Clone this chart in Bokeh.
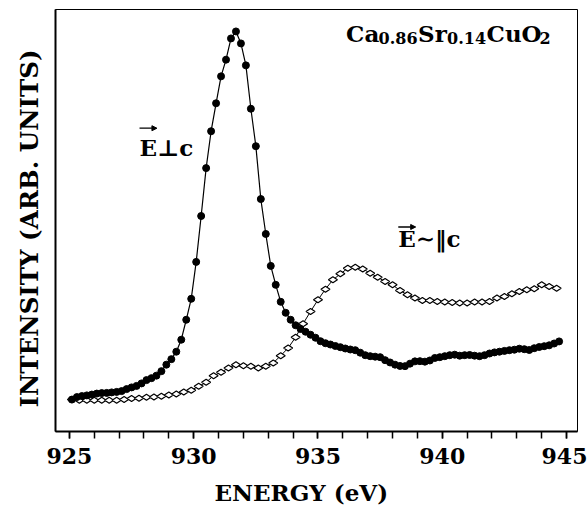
from bokeh.plotting import figure
from bokeh.models import Range1d, FixedTicker, Label, Arrow, NormalHead, ColumnDataSource, Title
from bokeh.embed import file_html
from bokeh.resources import INLINE
import math

# ---- data (energy in eV, intensity in arbitrary units) ----
energy_perp = [
    925.1, 925.3, 925.5, 925.7, 925.9, 926.1, 926.3, 926.5, 926.7, 926.9,
    927.1, 927.3, 927.5, 927.7, 927.9, 928.1, 928.3, 928.5, 928.7, 928.9,
    929.1, 929.3, 929.5, 929.7, 929.9, 930.1, 930.3, 930.5, 930.7, 930.9,
    931.1, 931.3, 931.5, 931.7, 931.9, 932.1, 932.3, 932.5, 932.7, 932.9,
    933.1, 933.3, 933.5, 933.7, 933.9, 934.1, 934.3, 934.5, 934.7, 934.9,
    935.1, 935.3, 935.5, 935.7, 935.9, 936.1, 936.3, 936.5, 936.7, 936.9,
    937.1, 937.3, 937.5, 937.7, 937.9, 938.1, 938.3, 938.5, 938.7, 938.9,
    939.1, 939.3, 939.5, 939.7, 939.9, 940.1, 940.3, 940.5, 940.7, 940.9,
    941.1, 941.3, 941.5, 941.7, 941.9, 942.1, 942.3, 942.5, 942.7, 942.9,
    943.1, 943.3, 943.5, 943.7, 943.9, 944.1, 944.3, 944.5, 944.7,
]
intensity_perp = [
    32, 34.5, 35.5, 36.2, 37, 38, 38.5, 38.7, 39.2, 39.7,
    40.5, 42.5, 44.2, 45.7, 48.2, 51.5, 53.5, 56, 60.5, 67,
    72.5, 80, 92, 112, 133, 170, 216, 264, 301, 329,
    356, 372.7, 394, 401, 389, 367, 323.5, 286, 233, 198,
    166, 147, 130, 119, 112, 106.5, 102.7, 100, 97, 94,
    90.5, 88.5, 87.2, 85.7, 84.5, 83.2, 82.2, 81.5, 79, 76.5,
    75.5, 75, 74.5, 71.5, 69.2, 67, 65.7, 65.5, 68, 70.3,
    70.5, 70, 71.2, 73.7, 74.5, 75.5, 76.5, 77, 76, 76.5,
    76.7, 76, 75.5, 76.5, 78.2, 79.3, 80, 80.8, 81.5, 82,
    83, 82.5, 81.7, 83.5, 84.7, 85.5, 86.4, 88.2, 90.3,
]
energy_para = [
    925.1, 925.4, 925.7, 926.0, 926.3, 926.6, 926.9, 927.2, 927.5, 927.8,
    928.1, 928.4, 928.7, 929.0, 929.3, 929.6, 929.9, 930.2, 930.5, 930.8,
    931.1, 931.4, 931.7, 932.0, 932.3, 932.6, 932.9, 933.2, 933.5, 933.8,
    934.1, 934.4, 934.7, 935.0, 935.3, 935.6, 935.9, 936.2, 936.5, 936.8,
    937.1, 937.4, 937.7, 938.0, 938.3, 938.6, 938.9, 939.2, 939.5, 939.8,
    940.1, 940.4, 940.7, 941.0, 941.3, 941.6, 941.9, 942.2, 942.5, 942.8,
    943.1, 943.4, 943.7, 944.0, 944.3, 944.6,
]
intensity_para = [
    32, 31.3, 31.3, 31.3, 31.3, 31.3, 31.3, 32, 33, 33.3,
    34.3, 34.7, 35.3, 36.7, 37.7, 39.7, 41.3, 45.3, 49.3, 56,
    59.3, 63.7, 67, 66, 65.3, 63.7, 65.3, 68.7, 76, 83.7,
    94.5, 108, 120.3, 132, 142.7, 152, 158, 163.7, 164.7, 163,
    158.7, 154.7, 150.3, 147, 141.3, 137, 133.7, 131.3, 131.3, 130.3,
    129.7, 129.3, 128.7, 128.7, 129.7, 129.7, 130.3, 133.7, 135.3, 138,
    140.3, 142, 143, 147, 145.3, 143.7,
]
major_ticks = [925, 930, 935, 940, 945]
minor_ticks = list(range(925, 946))

FONT = "DejaVu Serif"

p = figure(width=587, height=516, output_backend="svg", toolbar_location=None,
           x_range=Range1d(924.44, 945.44), y_range=Range1d(0, 423),
           min_border_left=55, min_border_right=10, min_border_top=9, min_border_bottom=84)
p.background_fill_color = "white"
p.border_fill_color = "white"
p.outline_line_color = "black"
p.outline_line_width = 1
p.xgrid.visible = False
p.ygrid.visible = False

src_perp = ColumnDataSource(dict(x=energy_perp, y=intensity_perp))
src_para = ColumnDataSource(dict(x=energy_para, y=intensity_para))

p.line("x", "y", source=src_para, line_color="black", line_width=1)
p.scatter("x", "y", source=src_para, marker="diamond", size=9, angle=math.pi / 2,
          fill_color="white", line_color="black", line_width=1.2)
p.line("x", "y", source=src_perp, line_color="black", line_width=1.2)
p.scatter("x", "y", source=src_perp, marker="circle", size=7,
          fill_color="black", line_color="black")

# x axis
xa = p.xaxis[0]
xa.ticker = FixedTicker(ticks=major_ticks, minor_ticks=minor_ticks)
xa.axis_line_width = 2
xa.major_tick_in = 0
xa.major_tick_out = 7
xa.minor_tick_in = 0
xa.minor_tick_out = 7
xa.major_tick_line_width = 1.5
xa.minor_tick_line_width = 1.5
xa.major_label_text_font = FONT
xa.major_label_text_font_style = "bold"
xa.major_label_text_font_size = "22px"
xa.major_label_text_color = "black"
xa.major_label_standoff = 9

# y axis
ya = p.yaxis[0]
ya.ticker = FixedTicker(ticks=[])
ya.axis_line_width = 2
ya.major_tick_out = 0
ya.major_tick_in = 0
ya.minor_tick_out = 0
ya.minor_tick_in = 0
ya.major_label_text_font_size = "0px"

# axis titles
p.add_layout(Title(text="ENERGY (eV)", align="left", offset=159, standoff=21,
                   text_font=FONT, text_font_style="bold", text_font_size="23px",
                   text_color="black"), "below")
p.add_layout(Title(text="INTENSITY (ARB. UNITS)", align="left", offset=24, standoff=24,
                   text_font=FONT, text_font_style="bold", text_font_size="24.5px",
                   text_color="black"), "left")

def lab(x, y, text, size, xo=0, yo=0):
    p.add_layout(Label(x=x, y=y, text=text, x_offset=xo, y_offset=yo,
                       text_font=FONT, text_font_style="bold",
                       text_font_size=size, text_color="black",
                       text_baseline="alphabetic", text_align="left"))

# E perpendicular c
lab(927.82, 284.5, "E\u22a5c", "23px")
p.add_layout(Arrow(x_start=927.82, y_start=304, x_end=928.52, y_end=304,
                   line_width=1.3, line_color="black",
                   end=NormalHead(size=5, fill_color="black", line_color="black")))
# E ~ parallel c
lab(938.23, 193, "E\u223c\u2016c", "23px")
p.add_layout(Arrow(x_start=938.23, y_start=205, x_end=938.93, y_end=205,
                   line_width=1.3, line_color="black",
                   end=NormalHead(size=5, fill_color="black", line_color="black")))

# composition
fx, fy = 936.13, 399
lab(fx, fy, "Ca", "23px", 0)
lab(fx, fy, "0.86", "16px", 32.5, -5)
lab(fx, fy, "Sr", "23px", 72)
lab(fx, fy, "0.14", "16px", 101, -5)
lab(fx, fy, "CuO", "23px", 140.5)
lab(fx, fy, "2", "16px", 193.5, -5)

open("out.html", "w").write(file_html(p, INLINE))
